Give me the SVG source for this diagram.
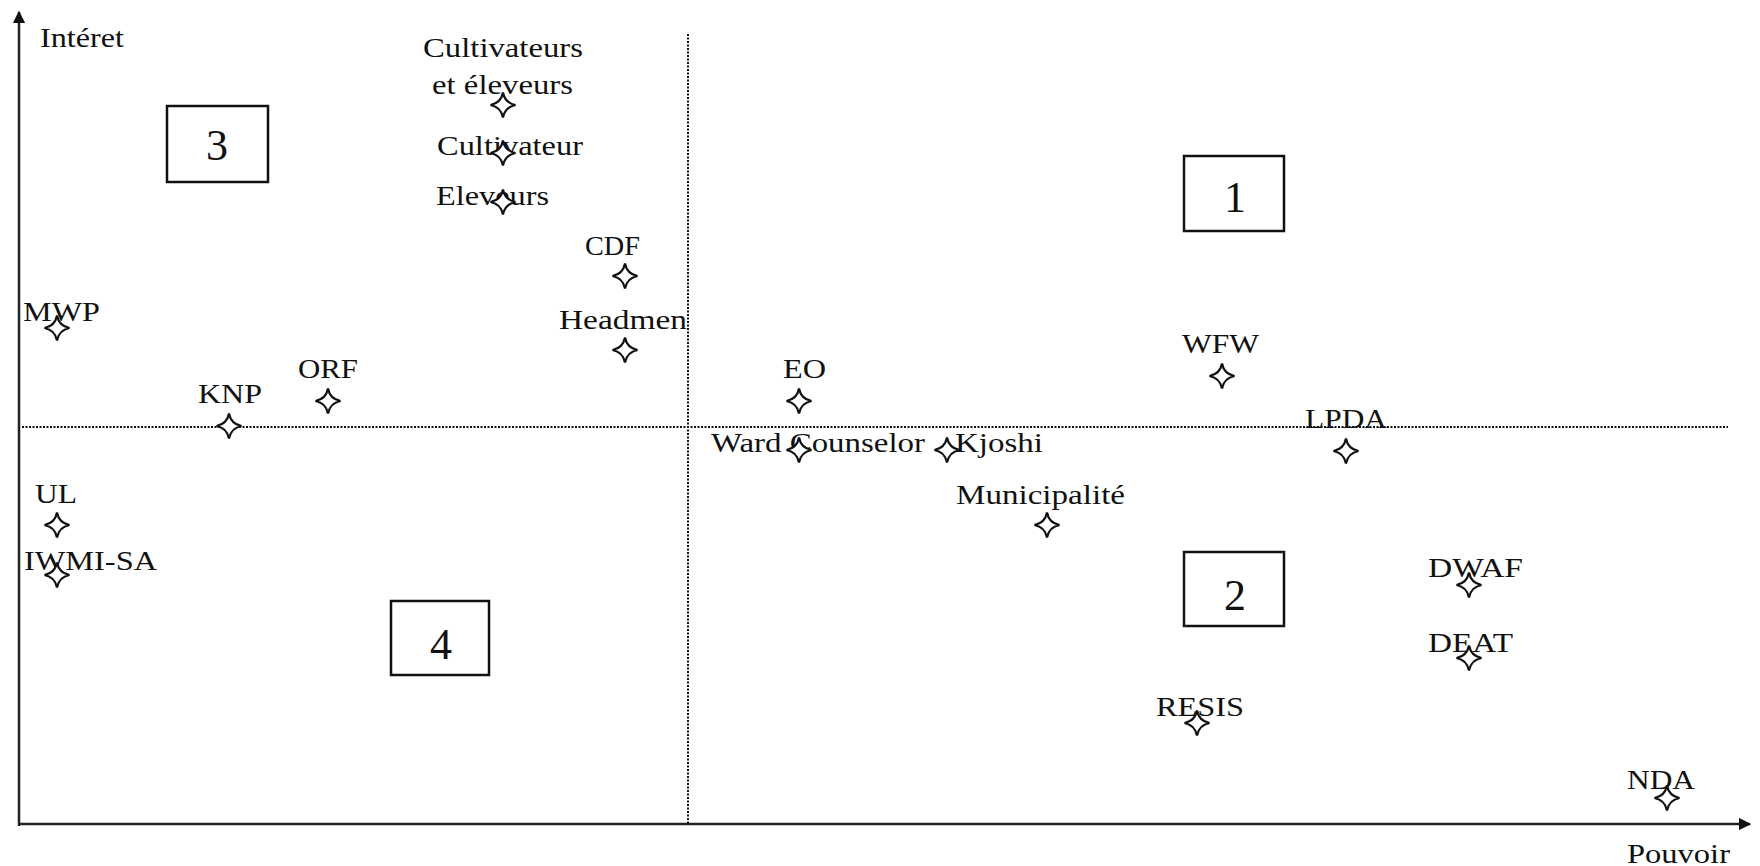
<svg xmlns="http://www.w3.org/2000/svg" xmlns:xlink="http://www.w3.org/1999/xlink" width="1760" height="866" viewBox="0 0 1760 866">
<style>
text{font-family:"Liberation Serif","Times New Roman",serif;font-size:28px;fill:#111;}
.num{font-size:44px;text-anchor:middle;}
.box{fill:none;stroke:#111;stroke-width:2.5;}
.axis{stroke:#222;stroke-width:2.5;fill:none;}
.dot{stroke:#111;stroke-width:2;stroke-dasharray:2 1.5;fill:none;}
</style>
<defs>
<marker id="arr" viewBox="0 0 10 10" refX="9" refY="5" markerWidth="5" markerHeight="5" orient="auto" markerUnits="strokeWidth">
<path d="M0,0 L10,5 L0,10 Z" fill="#111"/>
</marker>
<path id="star" d="M0,-12.5 Q2,-2 12.5,0 Q2,2 0,12.5 Q-2,2 -12.5,0 Q-2,-2 0,-12.5 Z" fill="#fff" stroke="#111" stroke-width="2.2"/>
</defs>
<rect width="1760" height="866" fill="#fff"/>
<g id="connectors">
<line class="axis" x1="19" y1="826" x2="19" y2="12" marker-end="url(#arr)"/>
<line class="axis" x1="19" y1="824" x2="1750" y2="824" marker-end="url(#arr)"/>
<line class="dot" x1="688" y1="34" x2="688" y2="824"/>
<line class="dot" x1="22" y1="427" x2="1728" y2="427"/>
</g>
<g id="axis-labels">
<text x="40" y="47" textLength="84" lengthAdjust="spacingAndGlyphs">Intéret</text>
<text x="1627" y="863" textLength="103" lengthAdjust="spacingAndGlyphs">Pouvoir</text>
</g>
<g id="box1"><rect class="box" x="1184" y="156" width="100" height="75"/><text class="num" x="1235" y="212">1</text></g>
<g id="box2"><rect class="box" x="1184" y="552" width="100" height="74"/><text class="num" x="1235" y="610">2</text></g>
<g id="box3"><rect class="box" x="167" y="106" width="101" height="76"/><text class="num" x="217" y="160">3</text></g>
<g id="box4"><rect class="box" x="391" y="601" width="98" height="74"/><text class="num" x="441" y="659">4</text></g>
<g id="n-cultivateurs-eleveurs"><text x="423" y="57" textLength="160" lengthAdjust="spacingAndGlyphs">Cultivateurs</text><text x="432" y="94" textLength="141" lengthAdjust="spacingAndGlyphs">et éleveurs</text><use xlink:href="#star" x="503" y="105"/></g>
<g id="n-cultivateur"><text x="437" y="155" textLength="146" lengthAdjust="spacingAndGlyphs">Cultivateur</text><use xlink:href="#star" x="503" y="153"/></g>
<g id="n-eleveurs"><text x="436" y="205" textLength="113" lengthAdjust="spacingAndGlyphs">Eleveurs</text><use xlink:href="#star" x="503" y="202"/></g>
<g id="n-cdf"><text x="585" y="255" textLength="55" lengthAdjust="spacingAndGlyphs">CDF</text><use xlink:href="#star" x="625" y="276"/></g>
<g id="n-headmen"><text x="559" y="329" textLength="128" lengthAdjust="spacingAndGlyphs">Headmen</text><use xlink:href="#star" x="625" y="350"/></g>
<g id="n-mwp"><text x="23" y="321" textLength="77" lengthAdjust="spacingAndGlyphs">MWP</text><use xlink:href="#star" x="57" y="328"/></g>
<g id="n-knp"><text x="198" y="403" textLength="64" lengthAdjust="spacingAndGlyphs">KNP</text><use xlink:href="#star" x="229" y="426"/></g>
<g id="n-orf"><text x="298" y="378" textLength="60" lengthAdjust="spacingAndGlyphs">ORF</text><use xlink:href="#star" x="328" y="401"/></g>
<g id="n-eo"><text x="783" y="378" textLength="43" lengthAdjust="spacingAndGlyphs">EO</text><use xlink:href="#star" x="799" y="401"/></g>
<g id="n-ward"><text x="711" y="452" textLength="214" lengthAdjust="spacingAndGlyphs">Ward Counselor</text><use xlink:href="#star" x="799" y="450"/></g>
<g id="n-kjoshi"><use xlink:href="#star" x="947" y="450"/><text x="955" y="452" textLength="88" lengthAdjust="spacingAndGlyphs">Kjoshi</text></g>
<g id="n-municipalite"><text x="956" y="504" textLength="169" lengthAdjust="spacingAndGlyphs">Municipalité</text><use xlink:href="#star" x="1047" y="525"/></g>
<g id="n-wfw"><text x="1182" y="353" textLength="77" lengthAdjust="spacingAndGlyphs">WFW</text><use xlink:href="#star" x="1222" y="376"/></g>
<g id="n-lpda"><text x="1305" y="428" textLength="82" lengthAdjust="spacingAndGlyphs">LPDA</text><use xlink:href="#star" x="1346" y="451"/></g>
<g id="n-ul"><text x="35" y="503" textLength="42" lengthAdjust="spacingAndGlyphs">UL</text><use xlink:href="#star" x="57" y="525"/></g>
<g id="n-iwmi"><text x="24" y="570" textLength="133" lengthAdjust="spacingAndGlyphs">IWMI-SA</text><use xlink:href="#star" x="57" y="575"/></g>
<g id="n-dwaf"><text x="1428" y="577" textLength="95" lengthAdjust="spacingAndGlyphs">DWAF</text><use xlink:href="#star" x="1469" y="585"/></g>
<g id="n-deat"><text x="1428" y="652" textLength="85" lengthAdjust="spacingAndGlyphs">DEAT</text><use xlink:href="#star" x="1469" y="658"/></g>
<g id="n-resis"><text x="1156" y="716" textLength="88" lengthAdjust="spacingAndGlyphs">RESIS</text><use xlink:href="#star" x="1197" y="723"/></g>
<g id="n-nda"><text x="1627" y="789" textLength="68" lengthAdjust="spacingAndGlyphs">NDA</text><use xlink:href="#star" x="1667" y="798"/></g>
</svg>
